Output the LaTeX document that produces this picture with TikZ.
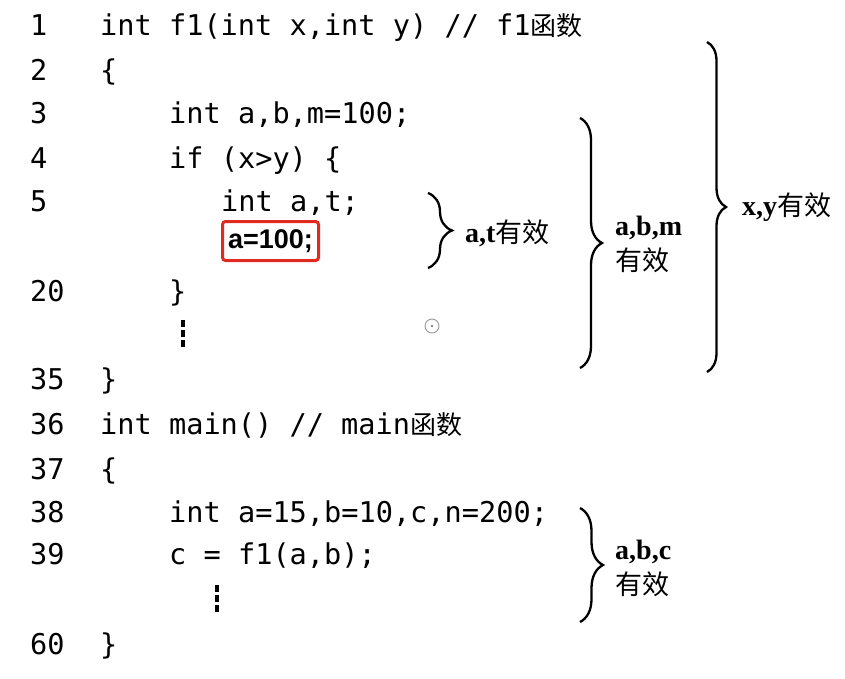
\documentclass[tikz,border=0pt]{standalone}
\usepackage{fontspec}
\usetikzlibrary{decorations.pathreplacing}
\setmonofont{DejaVu Sans Mono}
\newfontfamily\cjk{Noto Sans CJK SC}
\newfontfamily\lblfont{Liberation Serif}
\newfontfamily\boldsans{Liberation Sans}
\definecolor{boxred}{RGB}{224,42,32}
\begin{document}
\begin{tikzpicture}[x=1pt, y=-1pt,
  lineno/.style={anchor=base west, inner sep=0pt, font=\ttfamily\fontsize{28.6}{30}\selectfont},
  codeline/.style={anchor=base west, inner sep=0pt, font=\ttfamily\fontsize{28.6}{30}\selectfont},
  note/.style={anchor=west, inner sep=0pt, align=left, font=\fontsize{28}{35}\selectfont},
  scopebrace/.style={decorate, decoration={brace, amplitude=#1}, line width=2.3pt}]
\useasboundingbox (0,0) rectangle (845,679);
%Line numbers
\draw (30, 36) node (n1) [lineno] {1};
\draw (30, 81) node (n2) [lineno] {2};
\draw (30, 124) node (n3) [lineno] {3};
\draw (30, 168) node (n4) [lineno] {4};
\draw (30, 211) node (n5) [lineno] {5};
\draw (30, 301) node (n20) [lineno] {20};
\draw (30, 389) node (n35) [lineno] {35};
\draw (30, 434) node (n36) [lineno] {36};
\draw (30, 479) node (n37) [lineno] {37};
\draw (30, 522) node (n38) [lineno] {38};
\draw (30, 564) node (n39) [lineno] {39};
\draw (30, 654) node (n60) [lineno] {60};
%Code
\draw (100, 36) node (c1) [codeline] {int f1(int x,int y) // f1{\cjk\fontsize{26}{26}\selectfont 函数}};
\draw (100, 81) node (c2) [codeline] {\{};
\draw (169, 124) node (c3) [codeline] {int a,b,m=100;};
\draw (169, 168) node (c4) [codeline] {if (x>y) \{};
\draw (221, 211) node (c5) [codeline] {int a,t;};
\draw (270.5, 241) node (asgn) [draw=boxred, line width=3pt, rounded corners=3pt, minimum width=96, minimum height=39, inner sep=0pt, font=\boldsans\bfseries\fontsize{27}{27}\selectfont] {a=100;};
\draw (169, 301) node (c20) [codeline] {\}};
\draw (100, 389) node (c35) [codeline] {\}};
\draw (100, 434) node (c36) [codeline] {int main() // main{\cjk\fontsize{26}{26}\selectfont 函数}};
\draw (100, 479) node (c37) [codeline] {\{};
\draw (169, 522) node (c38) [codeline] {int a=15,b=10,c,n=200;};
\draw (169, 564) node (c39) [codeline] {c = f1(a,b);};
\draw (100, 654) node (c60) [codeline] {\}};
%Dots
\draw [line width=4pt, dash pattern=on 7pt off 3pt] (183, 320) -- (183, 347);
\draw [line width=4pt, dash pattern=on 7pt off 3pt] (217, 585) -- (217, 612);
%Braces
\draw [scopebrace=24] (428, 193) -- (428, 268);
\draw [scopebrace=22] (580, 118) -- (580, 368);
\draw [scopebrace=19] (707, 42) -- (707, 372);
\draw [scopebrace=23] (580, 508) -- (580, 622);
%Text
\draw (465, 233) node (at) [note] {{\lblfont\bfseries a,t}{\cjk\fontsize{27}{27}\selectfont 有效}};
\draw (615, 244) node (abm) [note] {{\lblfont\bfseries a,b,m}\\{\cjk\fontsize{27}{27}\selectfont 有效}};
\draw (742, 207) node (xy) [note] {{\lblfont\bfseries x,y}{\cjk\fontsize{27}{27}\selectfont 有效}};
\draw (615, 568) node (abc) [note] {{\lblfont\bfseries a,b,c}\\{\cjk\fontsize{27}{27}\selectfont 有效}};
%Cursor mark
\draw [gray!80, line width=0.9pt] (432, 326) circle (7);
\fill [gray] (432, 326) circle (1.3);
\end{tikzpicture}
\end{document}
